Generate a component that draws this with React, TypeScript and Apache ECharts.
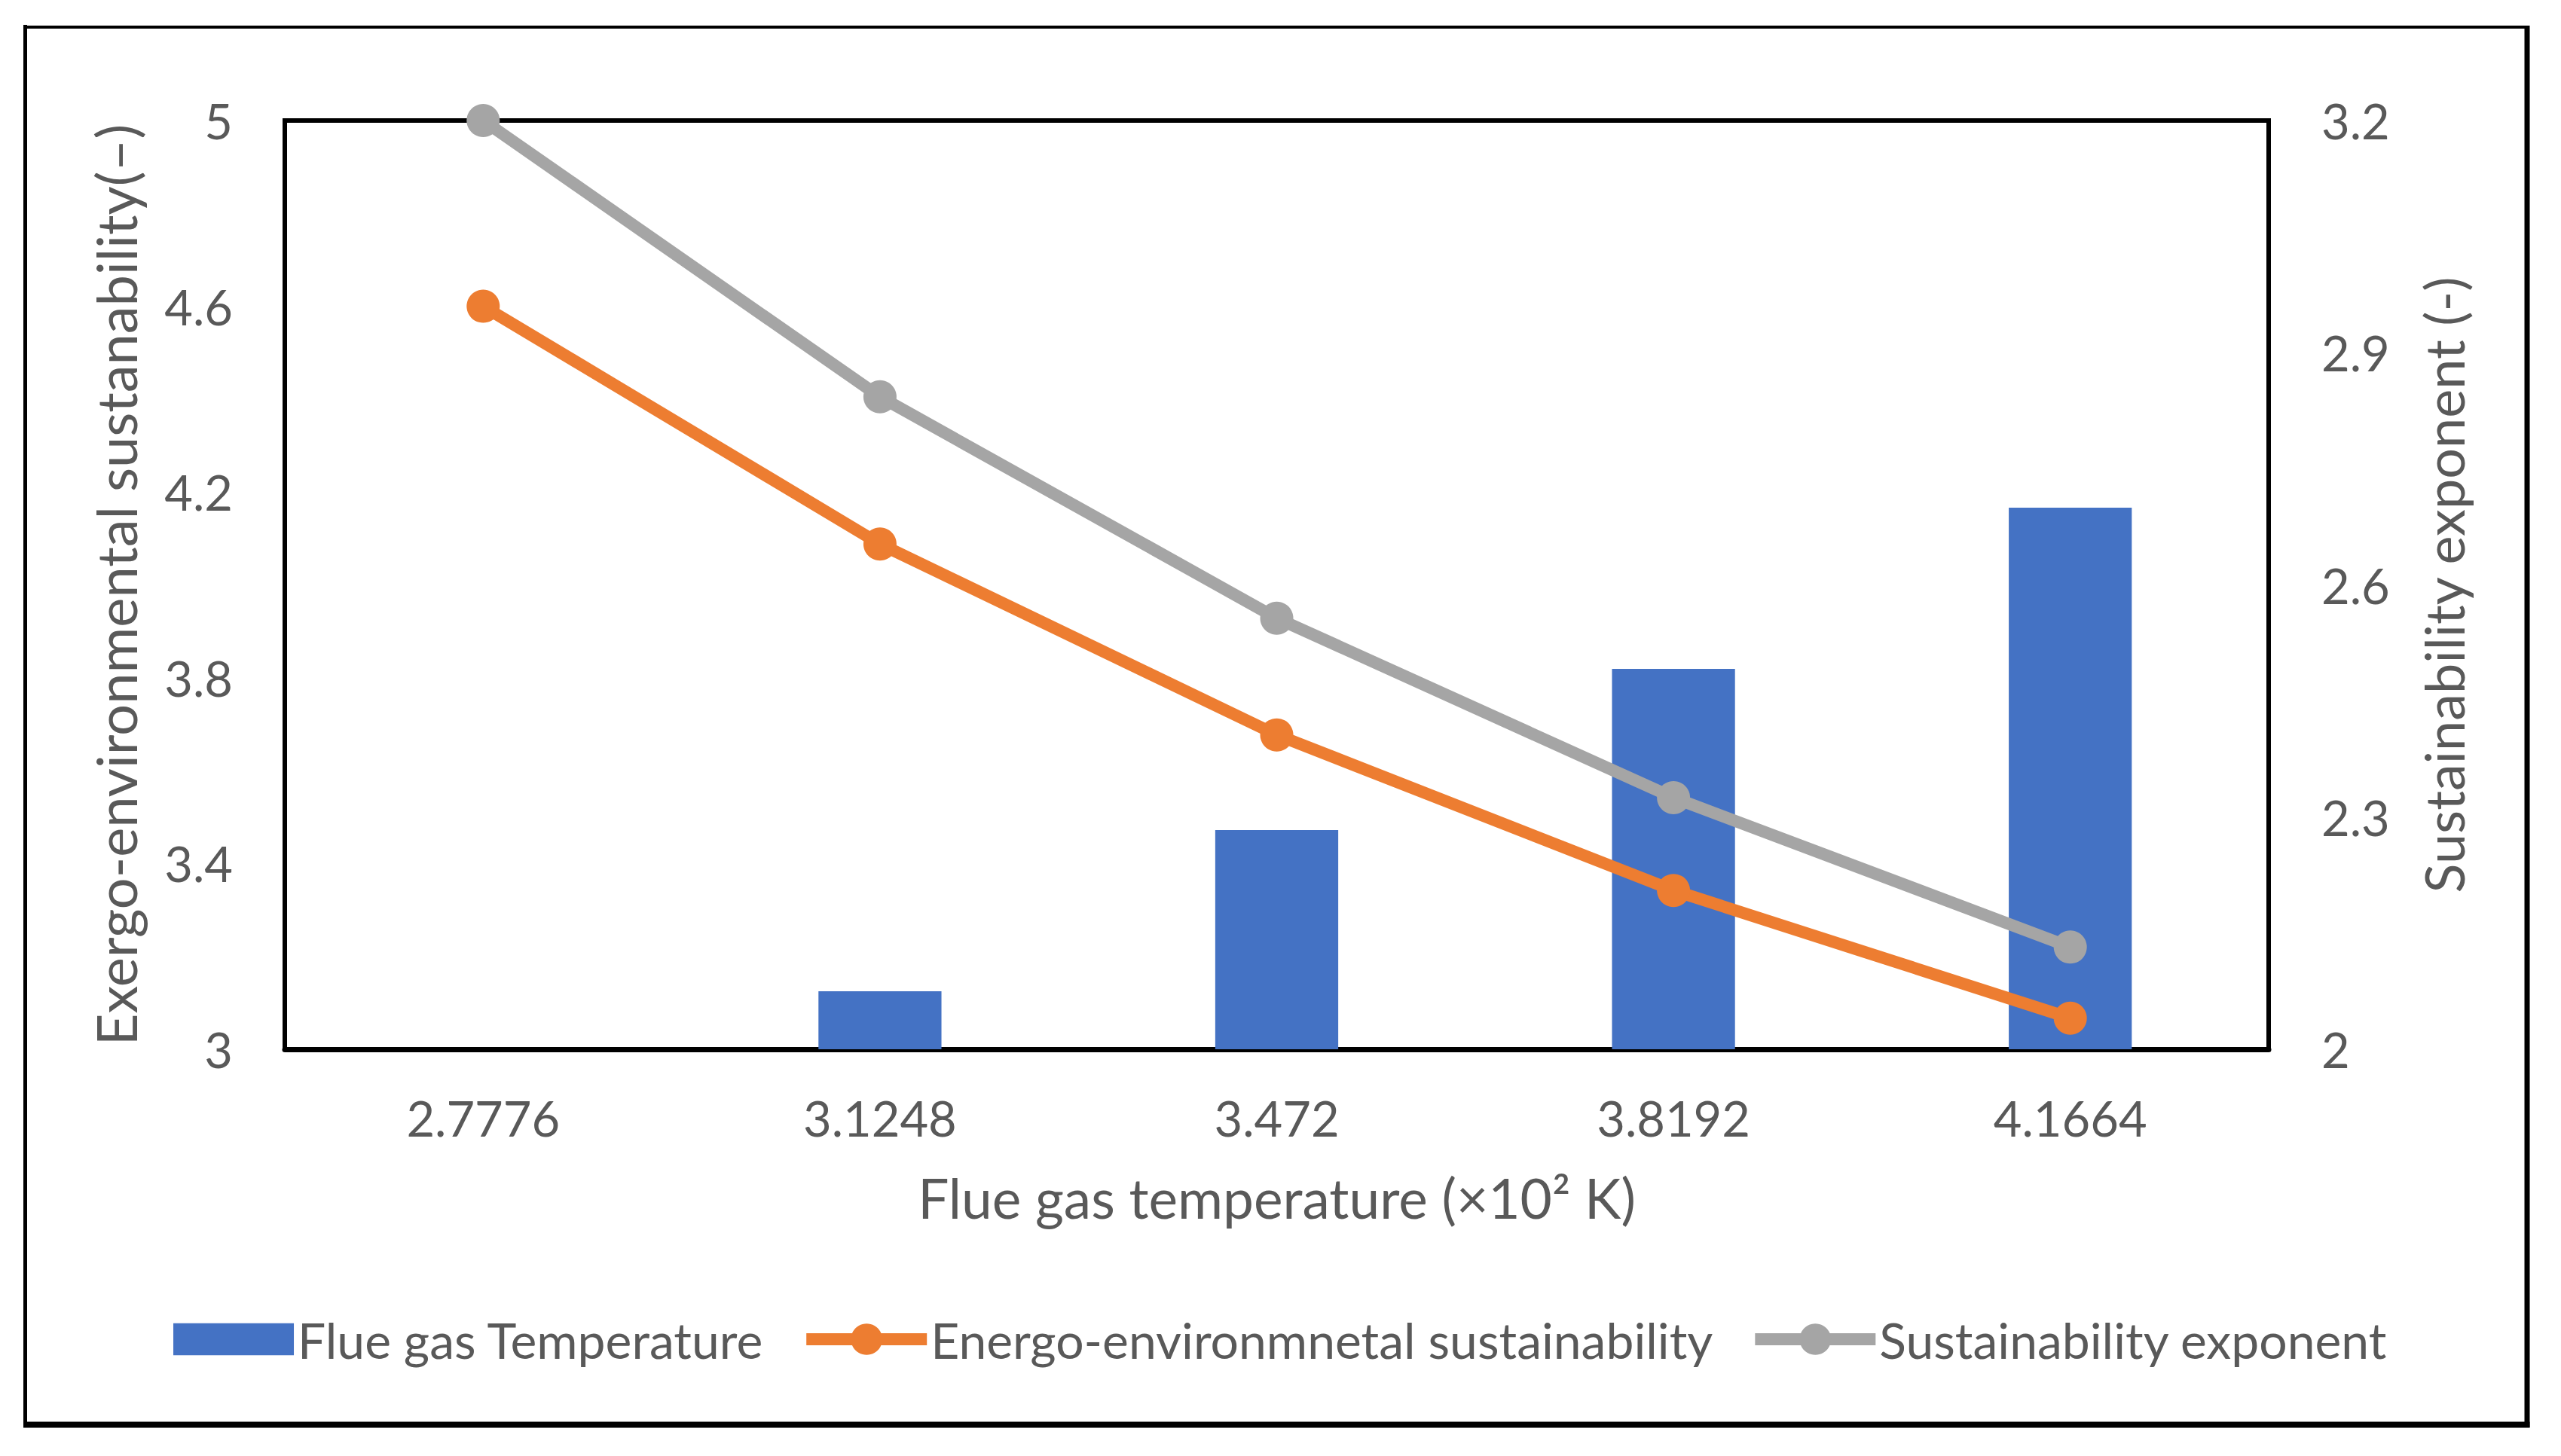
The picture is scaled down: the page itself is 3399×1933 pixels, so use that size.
import React, { useEffect, useRef } from "react";
import * as echarts from "echarts";

const categories = ["2.7776", "3.1248", "3.472", "3.8192", "4.1664"];
const flueGasTemperature = [2.7776, 3.1248, 3.472, 3.8192, 4.1664];
const energoSustainability = [4.6, 4.088, 3.677, 3.342, 3.067];
const sustainabilityExponent = [3.2, 2.843, 2.557, 2.325, 2.132];

const leftAxis = { min: 3, max: 5, interval: 0.4 };
const rightAxis = { min: 2, max: 3.2, interval: 0.3 };

const seriesNames = [
  "Flue gas Temperature",
  "Energo-environmnetal sustainability",
  "Sustainability exponent",
];

const FONT = "Lato";
const TEXT = "#595959";

export default function App() {
  const ref = useRef<HTMLDivElement>(null);
  useEffect(() => {
    document.body.style.margin = "0";
    if (!ref.current) return;
    const chart = echarts.init(ref.current, undefined, { renderer: "svg" });
    const gl = 378, gt = 160, gr = 3011, gb = 1393;
    chart.setOption({
      animation: false,
      backgroundColor: "#ffffff",
      grid: {
        left: gl,
        top: gt,
        width: gr - gl,
        height: gb - gt,
        show: true,
        borderColor: "#000000",
        borderWidth: 6,
        backgroundColor: "transparent",
      },
      legend: {
        left: "center",
        top: 1740,
        itemWidth: 160,
        itemHeight: 52,
        itemGap: 48,
        textStyle: { fontFamily: FONT, fontSize: 66, color: TEXT },
        lineStyle: { width: "inherit" },
        data: [
          { name: seriesNames[0], icon: "path://M0 0H150V40H0Z" },
          { name: seriesNames[1] },
          { name: seriesNames[2] },
        ],
      },
      xAxis: {
        type: "category",
        data: categories,
        name: "Flue gas temperature (×10² K)",
        nameLocation: "middle",
        nameGap: 160,
        nameTextStyle: { fontFamily: FONT, fontSize: 73, color: TEXT },
        axisLine: { show: true, lineStyle: { color: "#000000", width: 7 } },
        axisTick: { show: false },
        axisLabel: { margin: 58, fontFamily: FONT, fontSize: 65, color: TEXT },
        splitLine: { show: false },
      },
      yAxis: [
        {
          type: "value",
          min: leftAxis.min,
          max: leftAxis.max,
          interval: leftAxis.interval,
          name: "Exergo-environmental sustanability(–)",
          nameLocation: "middle",
          nameGap: 188,
          nameTextStyle: { fontFamily: FONT, fontSize: 74, color: TEXT },
          axisLine: { show: false },
          axisTick: { show: false },
          splitLine: { show: false },
          axisLabel: { margin: 69, fontFamily: FONT, fontSize: 65, color: TEXT },
        },
        {
          type: "value",
          position: "right",
          min: rightAxis.min,
          max: rightAxis.max,
          interval: rightAxis.interval,
          name: "Sustainability exponent (-)",
          nameLocation: "middle",
          nameGap: 196,
          nameTextStyle: { fontFamily: FONT, fontSize: 72, color: TEXT },
          axisLine: { show: false },
          axisTick: { show: false },
          splitLine: { show: false },
          axisLabel: { margin: 70, fontFamily: FONT, fontSize: 65, color: TEXT },
        },
      ],
      series: [
        {
          name: seriesNames[0],
          type: "bar",
          yAxisIndex: 0,
          data: flueGasTemperature,
          barWidth: "31%",
          itemStyle: { color: "#4472C4" },
          clip: true,
          z: 1,
        },
        {
          name: seriesNames[1],
          type: "line",
          yAxisIndex: 0,
          data: energoSustainability,
          symbol: "circle",
          symbolSize: 44,
          lineStyle: { color: "#ED7D31", width: 16 },
          itemStyle: { color: "#ED7D31" },
          z: 3,
        },
        {
          name: seriesNames[2],
          type: "line",
          yAxisIndex: 1,
          data: sustainabilityExponent,
          symbol: "circle",
          symbolSize: 44,
          lineStyle: { color: "#A5A5A5", width: 16 },
          itemStyle: { color: "#A5A5A5" },
          z: 4,
        },
      ],
      graphic: [
        { type: "line", shape: { x1: 33.5, y1: 33, x2: 33.5, y2: 1895 }, style: { stroke: "#000", lineWidth: 5 } },
        { type: "line", shape: { x1: 31, y1: 36, x2: 3357, y2: 36 }, style: { stroke: "#000", lineWidth: 4 } },
        { type: "line", shape: { x1: 3354, y1: 34, x2: 3354, y2: 1895 }, style: { stroke: "#000", lineWidth: 7 } },
        { type: "line", shape: { x1: 31, y1: 1891.5, x2: 3357.5, y2: 1891.5 }, style: { stroke: "#000", lineWidth: 8 } },
      ],
    });
    return () => chart.dispose();
  }, []);
  return <div ref={ref} style={{ width: 3399, height: 1933 }} />;
}
